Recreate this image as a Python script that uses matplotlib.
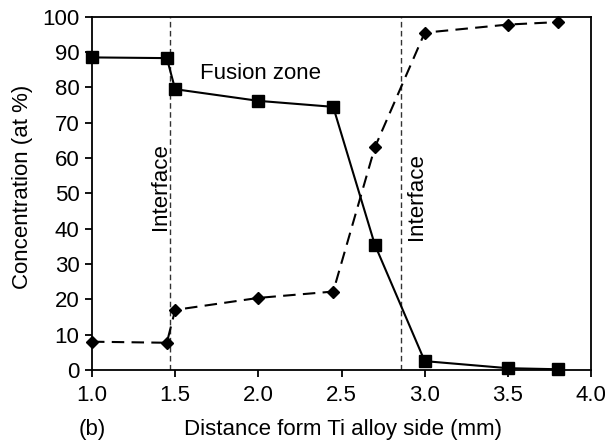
import matplotlib
matplotlib.use("Agg")
import matplotlib.pyplot as plt

plt.rcParams["font.family"] = ["Liberation Sans", "DejaVu Sans"]

# distance from Ti alloy side (mm)
distance = [1.0, 1.45, 1.5, 2.0, 2.45, 2.7, 3.0, 3.5, 3.8]
# square series (solid line)
conc_square = [88.5, 88.3, 79.5, 76.2, 74.5, 35.5, 2.5, 0.5, 0.2]
# diamond series (dashed line)
conc_diamond = [8.0, 7.7, 17.0, 20.4, 22.2, 63.0, 95.5, 97.8, 98.5]

interface_x = [1.47, 2.86]
x_ticks = [1.0, 1.5, 2.0, 2.5, 3.0, 3.5, 4.0]
y_ticks = [0, 10, 20, 30, 40, 50, 60, 70, 80, 90, 100]

FS = 16

fig = plt.figure(figsize=(6.05, 4.42), dpi=100)
ax = fig.add_axes([0.152, 0.163, 0.825, 0.799])

for xv in interface_x:
    ax.axvline(xv, color="#333333", lw=1.0, ls=(0, (4, 2.5)), zorder=1)

ax.plot(distance, conc_square, color="black", lw=1.5, marker="s", ms=8,
        clip_on=False, zorder=3)
ax.plot(distance, conc_diamond, color="black", lw=1.5, ls=(0, (6, 3.5)),
        marker="D", ms=6, clip_on=False, zorder=3)

ax.set_xlim(1.0, 4.0)
ax.set_ylim(0, 100)
ax.set_xticks(x_ticks)
ax.set_xticklabels([f"{v:.1f}" for v in x_ticks])
ax.set_yticks(y_ticks)
ax.tick_params(direction="out", length=5, width=1.3, labelsize=FS)
ax.tick_params(axis="x", pad=6)
ax.tick_params(axis="y", pad=4)
for s in ax.spines.values():
    s.set_linewidth(1.3)

ax.set_xlabel("Distance form Ti alloy side (mm)", fontsize=FS)
ax.xaxis.set_label_coords(0.502, -0.17)
ax.xaxis.label.set_va("center")
ax.set_ylabel("Concentration (at %)", fontsize=FS)
ax.yaxis.set_label_coords(-0.14, 0.518)
ax.yaxis.label.set_va("center")

ax.text(1.65, 84, "Fusion zone", fontsize=FS, ha="left", va="center")
ax.text(1.41, 52, "Interface", fontsize=FS, rotation=90, ha="center", va="center")
ax.text(2.95, 49, "Interface", fontsize=FS, rotation=90, ha="center", va="center")
fig.text(92 / 605, 1 - 430 / 442, "(b)", fontsize=FS, ha="center", va="center")

fig.savefig("out.png", dpi=100)
